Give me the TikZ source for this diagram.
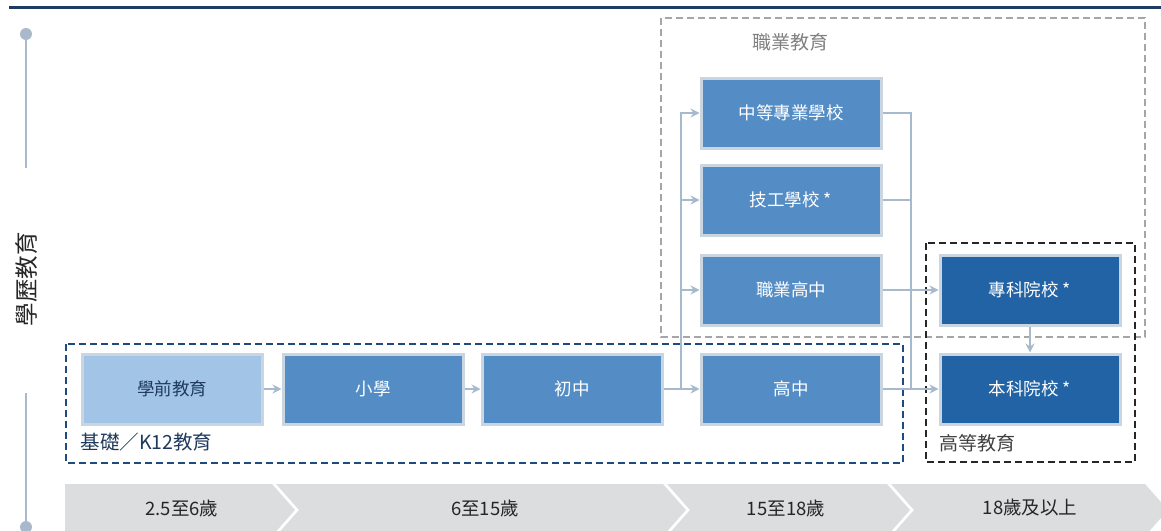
\documentclass[tikz,border=0pt]{standalone}
\usepackage{fontspec}
\setmainfont{Noto Sans CJK TC}
\usepackage{tikz}
\usetikzlibrary{arrows.meta}
\usepackage{xcolor}
\definecolor{topline}{HTML}{1F3B64}
\definecolor{axisgray}{HTML}{A9B8CA}
\definecolor{boxedge}{HTML}{CAD5E2}
\definecolor{prefill}{HTML}{A2C5E7}
\definecolor{midfill}{HTML}{548DC5}
\definecolor{highfill}{HTML}{2263A6}
\definecolor{conncol}{HTML}{A7B9CC}
\definecolor{k12dash}{HTML}{1F4A80}
\definecolor{vocdash}{HTML}{A6A6A6}
\definecolor{highdash}{HTML}{262626}
\definecolor{bandfill}{HTML}{DCDDDF}
\definecolor{darktext}{HTML}{1F3A5C}

\begin{document}
\begin{tikzpicture}[x=1pt,y=-1pt,
  school/.style={draw=boxedge,line width=3pt,fill=midfill,text=white,minimum width=180pt,minimum height=70pt,inner sep=0pt,font=\fontsize{17.5}{17.5}\selectfont},
  conn/.style={draw=conncol,line width=1.5pt},
  arr/.style={conn,-{Stealth[length=9pt,width=9pt,inset=3pt]}},
  group/.style={line width=2.2pt,dash pattern=on 7pt off 4pt},
  band/.style={fill=bandfill},
  agelabel/.style={text=black!85,font=\fontsize{18.5}{18.5}\selectfont}]
    \useasboundingbox (0,0) rectangle (1161,530);
    \clip (0,0) rectangle (1161,530);

    \draw[topline,line width=3pt] (9,7) -- (1161,7);
    \draw[axisgray,line width=2pt] (26,34) -- (26,168);
    \draw[axisgray,line width=2pt] (26,393) -- (26,527);
    \fill[axisgray] (26,34) circle (6pt);
    \fill[axisgray] (26,527) circle (6pt);
    \node[rotate=90,text=black!85,font=\fontsize{23.5}{23.5}\selectfont] (title) at (26,279) {學歷教育};

    \fill[band] (65,484) -- (272,484) -- (295,510) -- (272,536) -- (65,536) -- cycle;
    \fill[band] (276,484) -- (663,484) -- (686,510) -- (663,536) -- (276,536) -- (299,510) -- cycle;
    \fill[band] (667,484) -- (887,484) -- (910,510) -- (887,536) -- (667,536) -- (690,510) -- cycle;
    \fill[band] (891,484) -- (1145,484) -- (1168,510) -- (1145,536) -- (891,536) -- (914,510) -- cycle;
    \node[agelabel] (age1) at (182,508) {2.5至6歲};
    \node[agelabel] (age2) at (485,508) {6至15歲};
    \node[agelabel] (age3) at (786,508) {15至18歲};
    \node[agelabel] (age4) at (1030,508) {18歲及以上};

    \draw[group,k12dash] (66,344) rectangle (903,463);
    \draw[group,vocdash] (661,18) rectangle (1145,337);
    \draw[group,highdash] (926,243) rectangle (1135,462);
    \node[anchor=west,text=darktext,font=\fontsize{19.5}{19.5}\selectfont] (k12lbl) at (77,442) {基礎／K12教育};
    \node[text=black!50,font=\fontsize{19}{19}\selectfont] (voclbl) at (790,42) {職業教育};
    \node[anchor=west,text=black!75,font=\fontsize{19}{19}\selectfont] (highlbl) at (936,443) {高等教育};

    \node[school,fill=prefill,text=darktext] (pre) at (172,389) {學前教育};
    \node[school] (pri) at (373,389) {小學};
    \node[school] (jun) at (572,389) {初中};
    \node[school] (sen) at (791,389) {高中};
    \node[school] (sec) at (791,113) {中等專業學校};
    \node[school] (tech) at (791,200) {技工學校 *};
    \node[school] (vhs) at (791,290) {職業高中};
    \node[school,fill=highfill] (coll) at (1030,290) {專科院校 *};
    \node[school,fill=highfill] (bach) at (1030,389) {本科院校 *};

    \coordinate (split) at (681,389);
    \coordinate (merge) at (911,389);
    \draw[arr] (pre) -- (pri);
    \draw[arr] (pri) -- (jun);
    \draw[arr] (jun) -- (sen);
    \draw[arr] (split) |- (sec);
    \draw[arr] (split) |- (tech);
    \draw[arr] (split) |- (vhs);
    \draw[conn] (sec) -| (merge);
    \draw[conn] (tech) -- (tech -| merge);
    \draw[arr] (sen) -- (bach);
    \draw[arr] (vhs) -- (coll);
    \draw[arr] (coll) -- (bach);
\end{tikzpicture}
\end{document}
